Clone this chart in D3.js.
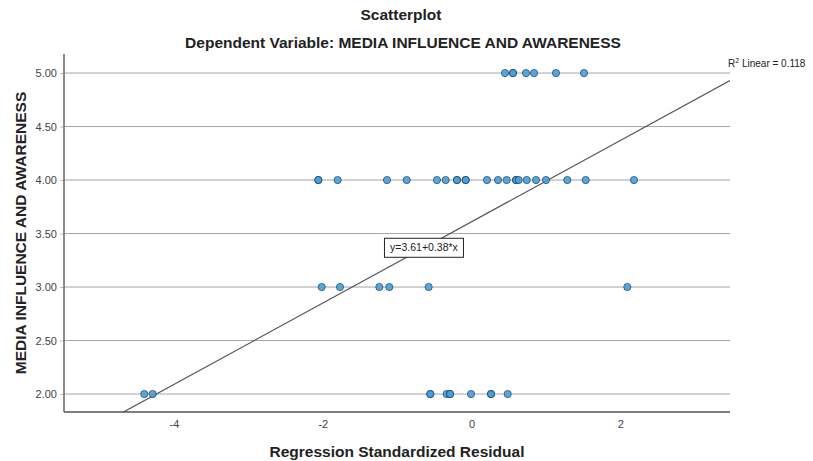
<!DOCTYPE html>
<html>
<head>
<meta charset="utf-8">
<script src="https://cdn.jsdelivr.net/npm/d3@7"></script>
<style>
  body { margin: 0; background: #fff; }
  text { font-family: "Liberation Sans", Arial, sans-serif; }
</style>
</head>
<body>
<svg id="chart"></svg>
<script>
// residuals, grouped by the dependent variable level
const row5 = [0.449, 0.556, 0.556, 0.731, 0.839, 1.134, 1.511];
const row4 = [-2.06, -2.06, -1.80, -1.137, -0.872, -0.465, -0.348, -0.196, -0.196, -0.079, -0.079,
              0.207, 0.355, 0.472, 0.597, 0.597, 0.633, 0.741, 0.866, 1.0, 1.286, 1.534, 2.183];
const row3 = [-2.015, -1.769, -1.240, -1.106, -0.577, 2.093];
const row2 = [-4.399, -4.286, -0.555, -0.555, -0.335, -0.290, -0.290, -0.008, 0.261, 0.261, 0.485];
const levels = [5, 4, 3, 2];
const xTicks = [-4, -2, 0, 2];
const yTicks = [2, 2.5, 3, 3.5, 4, 4.5, 5];
const intercept = 3.61;
const slope = 0.38;
const rSquared = 0.118;

const points = [row5, row4, row3, row2].flatMap((r, i) => r.map(x => ({x: x, y: levels[i]})));

const width = 813, height = 461;
const margin = {top: 54, right: 83, bottom: 49, left: 64};
const innerW = width - margin.left - margin.right;
const innerH = height - margin.top - margin.bottom;

const svg = d3.select('#chart')
    .attr('width', width)
    .attr('height', height);

const xScale = d3.scaleLinear().domain([-5.478, 3.473]).range([0, innerW]);
const yScale = d3.scaleLinear().domain([1.832, 5.178]).range([innerH, 0]);

const chart = svg.append('g')
    .attr('transform', `translate(${margin.left},${margin.top})`);

// horizontal grid lines
chart.append('g')
  .selectAll('line')
  .data(yTicks)
  .join('line')
    .attr('x1', 0)
    .attr('x2', innerW)
    .attr('y1', d => yScale(d))
    .attr('y2', d => yScale(d))
    .attr('stroke', '#a6a6a6')
    .attr('stroke-width', 1);

// y axis
const yAxisG = chart.append('g')
    .call(d3.axisLeft(yScale).tickValues(yTicks).tickFormat(d3.format('.2f')).tickSize(4).tickSizeOuter(0).tickPadding(3));
yAxisG.select('.domain').remove();
yAxisG.selectAll('.tick line').attr('stroke', '#bbb');
yAxisG.selectAll('.tick text').attr('fill', '#444').style('font-size', '11px');

// x axis (plain hyphen for negatives, as in the original)
const xAxisG = chart.append('g')
    .attr('transform', `translate(0,${innerH})`)
    .call(d3.axisBottom(xScale).tickValues(xTicks).tickFormat(d => String(d)).tickSize(0).tickPadding(8));
xAxisG.select('.domain').remove();
xAxisG.selectAll('.tick text').attr('fill', '#444').style('font-size', '11px');

// axis lines (left + bottom)
chart.append('line')
    .attr('x1', 0).attr('x2', 0).attr('y1', 0).attr('y2', innerH)
    .attr('stroke', '#666').attr('stroke-width', 1.5);
chart.append('line')
    .attr('x1', 0).attr('x2', innerW).attr('y1', innerH).attr('y2', innerH)
    .attr('stroke', '#555').attr('stroke-width', 1.5);

// fit line clipped to plot area
chart.append('clipPath').attr('id', 'plot-clip')
  .append('rect').attr('width', innerW).attr('height', innerH);

const xd = xScale.domain();
chart.append('line')
    .attr('clip-path', 'url(#plot-clip)')
    .attr('x1', xScale(xd[0])).attr('y1', yScale(intercept + slope * xd[0]))
    .attr('x2', xScale(xd[1])).attr('y2', yScale(intercept + slope * xd[1]))
    .attr('stroke', '#555')
    .attr('stroke-width', 1.2);

// points
chart.append('g')
  .selectAll('circle')
  .data(points)
  .join('circle')
    .attr('cx', d => xScale(d.x))
    .attr('cy', d => yScale(d.y))
    .attr('r', 3.6)
    .attr('fill', '#45a0dc')
    .attr('fill-opacity', 0.9)
    .attr('stroke', '#1c3550')
    .attr('stroke-width', 0.9)
    .attr('stroke-opacity', 0.75);

// equation box on the line
const ex = -0.64;
const eqG = chart.append('g')
    .attr('transform', `translate(${xScale(ex)},${yScale(intercept + slope * ex)})`);
eqG.append('rect')
    .attr('x', -39.5).attr('y', -9.5)
    .attr('width', 79).attr('height', 19)
    .attr('fill', '#fff')
    .attr('stroke', '#222')
    .attr('stroke-width', 1);
eqG.append('text')
    .attr('text-anchor', 'middle')
    .attr('dy', '0.35em')
    .style('font-size', '10.5px')
    .attr('fill', '#222')
    .text(`y=${intercept}+${slope}*x`);

// R2 label
const r2 = svg.append('text')
    .attr('x', 728)
    .attr('y', 67)
    .style('font-size', '10px')
    .attr('fill', '#222');
r2.append('tspan').text('R');
r2.append('tspan').attr('dy', -4).style('font-size', '7px').text('2');
r2.append('tspan').attr('dy', 4).text(` Linear = ${rSquared}`);

// titles
svg.append('text')
    .attr('x', 401).attr('y', 20)
    .attr('text-anchor', 'middle')
    .style('font-size', '15.5px').style('font-weight', 'bold')
    .attr('fill', '#222')
    .text('Scatterplot');
svg.append('text')
    .attr('x', 403).attr('y', 48)
    .attr('text-anchor', 'middle')
    .style('font-size', '15.5px').style('font-weight', 'bold')
    .attr('fill', '#222')
    .text('Dependent Variable: MEDIA INFLUENCE AND AWARENESS');

svg.append('text')
    .attr('x', 397).attr('y', 457)
    .attr('text-anchor', 'middle')
    .style('font-size', '15.5px').style('font-weight', 'bold')
    .attr('fill', '#222')
    .text('Regression Standardized Residual');

svg.append('text')
    .attr('transform', `translate(26,${margin.top + innerH / 2}) rotate(-90)`)
    .attr('text-anchor', 'middle')
    .style('font-size', '15.5px').style('font-weight', 'bold')
    .attr('fill', '#222')
    .text('MEDIA INFLUENCE AND AWARENESS');
</script>
</body>
</html>
